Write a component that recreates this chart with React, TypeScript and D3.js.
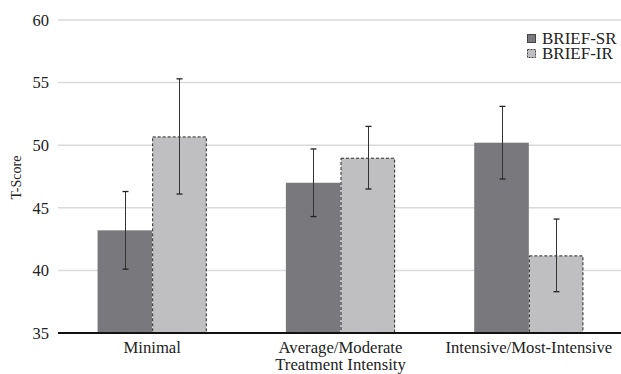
import React, { useEffect, useRef } from 'react';
import * as d3 from 'd3';

const categories = ['Minimal', 'Average/Moderate\nTreatment Intensity', 'Intensive/Most-Intensive'];
const seriesNames = ['BRIEF-SR', 'BRIEF-IR'];
const srMeans = [43.2, 47.0, 50.2];
const srErr = [3.1, 2.7, 2.9];
const irMeans = [50.7, 49.0, 41.2];
const irErr = [4.6, 2.5, 2.9];
const yTicks = [35, 40, 45, 50, 55, 60];

const W = 621;
const H = 374;
const FONT = '"Liberation Serif", "Times New Roman", serif';
const COLORS = ['#79797d', '#bfbfc1'];

export default function App() {
  const svgRef = useRef<SVGSVGElement | null>(null);

  useEffect(() => {
    if (!svgRef.current) return;
    const svg = d3.select(svgRef.current);
    svg.selectAll('*').remove();

    const left = 58;
    const right = 623;
    const top = 20;
    const bottom = 333;

    const x = d3.scaleBand<string>()
      .domain(categories)
      .range([left, right])
      .paddingInner(0.42)
      .paddingOuter(0.21);
    const xs = d3.scaleBand<string>()
      .domain(seriesNames)
      .range([0, x.bandwidth()]);
    const y = d3.scaleLinear().domain([35, 60]).range([bottom, top]);

    // gridlines
    svg.append('g')
      .selectAll('line')
      .data(yTicks.filter((t) => t > 35))
      .join('line')
      .attr('x1', left)
      .attr('x2', W)
      .attr('y1', (d) => y(d))
      .attr('y2', (d) => y(d))
      .attr('stroke', '#d9d9d9')
      .attr('stroke-width', 1.5);

    // tick labels
    svg.append('g')
      .selectAll('text')
      .data(yTicks)
      .join('text')
      .attr('x', 49)
      .attr('y', (d) => y(d))
      .attr('dy', '0.35em')
      .attr('text-anchor', 'end')
      .attr('font-family', FONT)
      .attr('font-size', 16.5)
      .attr('fill', '#222')
      .text((d) => d);

    svg.append('text')
      .attr('transform', `translate(21, ${(top + bottom) / 2 + 1}) rotate(-90)`)
      .attr('text-anchor', 'middle')
      .attr('font-family', FONT)
      .attr('font-size', 14)
      .attr('fill', '#222')
      .text('T-Score');

    const series = [
      { name: seriesNames[0], means: srMeans, err: srErr },
      { name: seriesNames[1], means: irMeans, err: irErr },
    ];

    series.forEach((s, si) => {
      const g = svg.append('g');
      categories.forEach((c, ci) => {
        const bx = (x(c) ?? 0) + (xs(s.name) ?? 0);
        const bw = xs.bandwidth();
        const v = s.means[ci];
        if (si === 0) {
          g.append('rect')
            .attr('x', bx)
            .attr('y', y(v))
            .attr('width', bw)
            .attr('height', y(35) - y(v))
            .attr('fill', COLORS[0]);
        } else {
          g.append('rect')
            .attr('x', bx + 0.5)
            .attr('y', y(v) + 0.5)
            .attr('width', bw - 1)
            .attr('height', y(35) - y(v) - 0.5)
            .attr('fill', COLORS[1])
            .attr('stroke', '#2a2a2a')
            .attr('stroke-width', 1)
            .attr('stroke-dasharray', '3,2');
        }
        // error bar
        const cx = Math.round(bx + bw / 2) + 0.5;
        const hi = y(v + s.err[ci]);
        const lo = y(v - s.err[ci]);
        g.append('line')
          .attr('x1', cx).attr('x2', cx)
          .attr('y1', hi).attr('y2', lo)
          .attr('stroke', '#333').attr('stroke-width', 1);
        [hi, lo].forEach((yy) => {
          g.append('line')
            .attr('x1', cx - 3).attr('x2', cx + 3)
            .attr('y1', yy).attr('y2', yy)
            .attr('stroke', '#222').attr('stroke-width', 1.3);
        });
      });
    });

    // baseline
    svg.append('line')
      .attr('x1', left).attr('x2', W)
      .attr('y1', y(35)).attr('y2', y(35))
      .attr('stroke', '#111').attr('stroke-width', 2);

    // x labels
    categories.forEach((c) => {
      const cx = (x(c) ?? 0) + x.bandwidth() / 2;
      const t = svg.append('text')
        .attr('text-anchor', 'middle')
        .attr('font-family', FONT)
        .attr('font-size', 16.7)
        .attr('fill', '#222');
      c.split('\n').forEach((line, i) => {
        t.append('tspan').attr('x', cx).attr('y', 353 + i * 17).text(line);
      });
    });

    // legend
    const lg = svg.append('g').attr('transform', 'translate(527, 34)');
    seriesNames.forEach((n, i) => {
      const row = lg.append('g').attr('transform', `translate(0, ${i * 15})`);
      row.append('rect')
        .attr('x', 0.5).attr('y', 0.5)
        .attr('width', 8).attr('height', 8)
        .attr('fill', COLORS[i])
        .attr('stroke', '#444')
        .attr('stroke-width', 1)
        .attr('stroke-dasharray', i === 0 ? null : '2,1');
      row.append('text')
        .attr('x', 15)
        .attr('y', 9.5)
        .attr('font-family', FONT)
        .attr('font-size', 17)
        .attr('fill', '#222')
        .text(n);
    });
  }, []);

  return (
    <div style={{ position: 'fixed', left: 0, top: 0, width: W, height: H, overflow: 'hidden' }}>
      <svg ref={svgRef} width={W} height={H} viewBox={`0 0 ${W} ${H}`} style={{ display: 'block', background: '#fff' }} />
    </div>
  );
}
